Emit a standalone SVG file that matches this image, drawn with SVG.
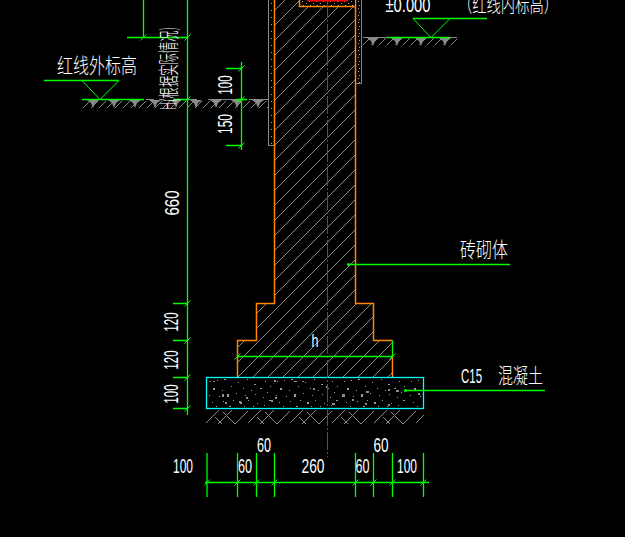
<svg xmlns="http://www.w3.org/2000/svg" width="625" height="537" viewBox="0 0 625 537">
<style>
.g{stroke:#0f0;stroke-width:1.3;fill:none}
.gt{stroke:#0f0;stroke-width:1;fill:none}
.o{stroke:#f80;stroke-width:1.5;fill:none}
.gr{stroke:#888;stroke-width:1;fill:none}
.t{fill:#fff;font-family:"Liberation Sans","Noto Sans CJK SC",sans-serif;font-size:21px;text-anchor:middle}
.c{fill:#fff;font-family:"Noto Sans CJK SC","Liberation Sans",sans-serif;font-size:21px;font-weight:300}
.m{fill:#8c8c8c}
</style>
<defs>
<pattern id="h" width="15" height="15" patternUnits="userSpaceOnUse">
<path d="M0 15L15 0" stroke="#8a8a8a" stroke-width="1"/>
</pattern>
<pattern id="sp" width="7" height="7" patternUnits="userSpaceOnUse">
<path d="M1 1h1v1h-1zM5 3h1v1h-1zM2 5h1v1h-1z" fill="#aaa"/>
</pattern>
<pattern id="cd" width="67" height="31" patternUnits="userSpaceOnUse" x="207" y="378">
<path fill="#9a9a9a" d="M3 3h1v1h-1zM10 2h1v1h-1zM17 1h2v1h-2zM31 4h1v1h-1zM40 1h1v1h-1zM47 6h2v1h-2zM58 3h1v1h-1zM63 8h1v1h-1zM6 10h2v2h-2zM15 12h1v1h-1zM24 8h1v1h-1zM36 10h1v1h-1zM44 12h1v1h-1zM53 10h2v1h-2zM60 14h1v1h-1zM2 17h1v1h-1zM12 18h1v1h-1zM20 16h2v3h-2zM29 15h1v1h-1zM38 17h1v1h-1zM48 16h1v1h-1zM56 19h1v1h-1zM5 24h1v1h-1zM16 23h1v1h-1zM26 22h1v1h-1zM33 24h2v2h-2zM41 22h1v1h-1zM50 25h1v1h-1zM62 22h2v1h-2zM9 28h1v1h-1zM22 28h2v1h-2zM37 28h1v1h-1zM46 28h1v1h-1zM57 27h1v1h-1z"/>
</pattern>
<pattern id="gh" width="8" height="9" patternUnits="userSpaceOnUse" x="83" y="100">
<path d="M0 8L7 1" stroke="#888" stroke-width="1"/>
</pattern>
<pattern id="sub" width="42" height="15" patternUnits="userSpaceOnUse" x="206" y="409">
<path d="M0 14L13 1M12 15L26 1M17 3L29 15M9 8L16 15M29 15L42 2" stroke="#888" stroke-width="1"/>
</pattern>
<path id="gm" d="M-6 0H6L2 3L0 8L-2 3Z" class="m"/>
<path id="tick" d="M-3 3L3 -3" stroke="#0f0" stroke-width="1"/>
</defs>
<rect width="625" height="537" fill="#000"/>

<g id="wall">
<path d="M274.5 0V303.5H256.5V340.5H237.5V377.5H392.5V340.5H373.5V303.5H355.5V0Z" fill="url(#h)"/>
<path d="M274.5 0V303.5H256.5V340.5H237.5V377.5M392.5 377.5V356M392.5 340.5H373.5V303.5H355.5V0" class="o"/>
<path d="M392.5 340.5V356" class="g"/>
<rect x="300" y="0" width="55" height="6" fill="#000"/>
<rect x="300" y="0" width="55" height="6" fill="url(#sp)"/>
<path d="M307 0.5H348" stroke="#f00" stroke-width="2"/>
<path d="M299.5 0V6.5H355.5" class="o"/>
</g>

<g id="plaster">
<rect x="269" y="0" width="5" height="145" fill="url(#sp)"/>
<path d="M268.5 0V145.500H274" class="gr"/>
<rect x="356" y="0" width="5" height="83" fill="url(#sp)"/>
<path d="M361.500 0V83.500H356" class="gr"/>
</g>

<g id="ground-left">
<rect x="83" y="100" width="185" height="9" fill="url(#gh)"/>
<use href="#gm" x="93" y="100"/><use href="#gm" x="114" y="100"/><use href="#gm" x="135" y="100"/>
<use href="#gm" x="155" y="100"/><use href="#gm" x="176" y="100"/><use href="#gm" x="196" y="100"/>
<use href="#gm" x="216" y="100"/><use href="#gm" x="237" y="100"/><use href="#gm" x="258" y="100"/>
<path d="M146 99.500H154M177 99.500H197M208 99.500H247M249 99.500H268" class="gr"/>
</g>
<g id="ground-right">
<rect x="363" y="38" width="94" height="9" fill="url(#gh)"/>
<use href="#gm" x="373" y="38"/><use href="#gm" x="397" y="38"/><use href="#gm" x="421" y="38"/><use href="#gm" x="445" y="38"/>
<path d="M363 37.500H450M450 37.500H457" class="gr"/>
</g>

<g id="concrete">
<rect x="207" y="378" width="216" height="30" fill="url(#cd)"/>
<path class="m" d="M222 394h2v3h-2zM246 397h2v2h-2zM274 380h2v2h-2zM275 397h2v2h-2zM313 388h2v2h-2zM326 386h2v2h-2zM342 394h3v3h-3zM352 399h2v2h-2zM366 391h3v2h-3zM388 389h2v2h-2zM396 390h3v2h-3zM418 393h2v2h-2zM213 381h2v1h-2zM294 381h3v1h-3zM302 381h2v1h-2zM239 401h2v2h-2zM271 400h2v2h-2zM225 402h2v2h-2zM332 403h3v2h-3zM388 404h2v2h-2zM365 403h2v2h-2z"/>
<rect x="206.500" y="377.500" width="217" height="31" fill="none" stroke="#0ff" stroke-width="1.300"/>
<rect x="206" y="409" width="218" height="15" fill="url(#sub)"/>
</g>

<g id="centerline">
<path d="M327.500 0V457" stroke="#e01515" stroke-width="1" stroke-dasharray="18 2 2 2" fill="none"/>
</g>

<g id="connectors">
<path class="g" d="M143.500 0V37.500M127 37.500H188M187.500 0V415"/>
<path class="g" d="M44 80.500H119M82 99.500H144"/>
<path class="gt" d="M82 80.500L100 99.500L119 80.500"/>
<path class="g" d="M413 18.500H487M387 37.500H450"/>
<path class="gt" d="M413 18.500L431 37.500L450 18.500"/>
<path class="g" d="M173 99.500H187M173 303.500H187M173 340.500H187M173 377.500H187M173 408.500H187"/>
<path class="g" d="M241.500 62V150M226 68.500H241.500M226 145.500H241.500M236 99.500H247"/>
<path class="g" d="M237 356.500H393"/>
<path class="g" d="M207 453V497M237.500 453V497M256.500 453V497M274.500 453V497M355.500 453V497M373.500 453V497M392.500 453V497M423.500 453V497M205 482.500H429"/>
<path class="g" d="M348 264.500H510M405 390.500H545"/>
<circle cx="348.500" cy="264.500" r="1.500" fill="#0f0"/><circle cx="405.500" cy="390.500" r="1.500" fill="#0f0"/>
<use href="#tick" x="143.500" y="37.500"/><use href="#tick" x="187.500" y="37.500"/><use href="#tick" x="187.500" y="99.500"/>
<use href="#tick" x="187.500" y="303.500"/><use href="#tick" x="187.500" y="340.500"/><use href="#tick" x="187.500" y="377.500"/><use href="#tick" x="187.500" y="408.500"/>
<use href="#tick" x="241.500" y="68.500"/><use href="#tick" x="241.500" y="99.500"/><use href="#tick" x="241.500" y="145.500"/>
<use href="#tick" x="237.500" y="356.500"/><use href="#tick" x="392.500" y="356.500"/>
<use href="#tick" x="207" y="482.500"/><use href="#tick" x="237.500" y="482.500"/><use href="#tick" x="256.500" y="482.500"/><use href="#tick" x="274.500" y="482.500"/>
<use href="#tick" x="355.500" y="482.500"/><use href="#tick" x="373.500" y="482.500"/><use href="#tick" x="392.500" y="482.500"/><use href="#tick" x="423.500" y="482.500"/>
</g>

<g id="labels">
<text class="c" x="57" y="73" textLength="80" lengthAdjust="spacingAndGlyphs">红线外标高</text>
<text class="t" x="408" y="12" textLength="45" lengthAdjust="spacingAndGlyphs">±0.000</text>
<text class="c" x="458" y="12" textLength="100" lengthAdjust="spacingAndGlyphs">（红线内标高）</text>
<text class="c" x="460" y="257" textLength="48" lengthAdjust="spacingAndGlyphs">砖砌体</text>
<text class="t" x="471.500" y="383" textLength="21" lengthAdjust="spacingAndGlyphs">C15</text>
<text class="c" x="498" y="383" textLength="45" lengthAdjust="spacingAndGlyphs">混凝土</text>
<text class="t" x="315" y="347" textLength="7" lengthAdjust="spacingAndGlyphs" style="font-size:19px">h</text>
<text class="c" transform="translate(176 110) rotate(-90)" textLength="83" lengthAdjust="spacingAndGlyphs">H(根据实际情况)</text>
<text class="t" transform="translate(179 203) rotate(-90)" textLength="25" lengthAdjust="spacingAndGlyphs">660</text>
<text class="t" transform="translate(178 322) rotate(-90)" textLength="19" lengthAdjust="spacingAndGlyphs">120</text>
<text class="t" transform="translate(178 360) rotate(-90)" textLength="19" lengthAdjust="spacingAndGlyphs">120</text>
<text class="t" transform="translate(178 394) rotate(-90)" textLength="19" lengthAdjust="spacingAndGlyphs">100</text>
<text class="t" transform="translate(232 85) rotate(-90)" textLength="19" lengthAdjust="spacingAndGlyphs">100</text>
<text class="t" transform="translate(232 124) rotate(-90)" textLength="20" lengthAdjust="spacingAndGlyphs">150</text>
<text class="t" x="183" y="473" textLength="20" lengthAdjust="spacingAndGlyphs">100</text>
<text class="t" x="245" y="473" textLength="14" lengthAdjust="spacingAndGlyphs">60</text>
<text class="t" x="264" y="452" textLength="14" lengthAdjust="spacingAndGlyphs">60</text>
<text class="t" x="313" y="473" textLength="23" lengthAdjust="spacingAndGlyphs">260</text>
<text class="t" x="362.500" y="473" textLength="14" lengthAdjust="spacingAndGlyphs">60</text>
<text class="t" x="381" y="452" textLength="15" lengthAdjust="spacingAndGlyphs">60</text>
<text class="t" x="407" y="473" textLength="20" lengthAdjust="spacingAndGlyphs">100</text>
</g>
</svg>
